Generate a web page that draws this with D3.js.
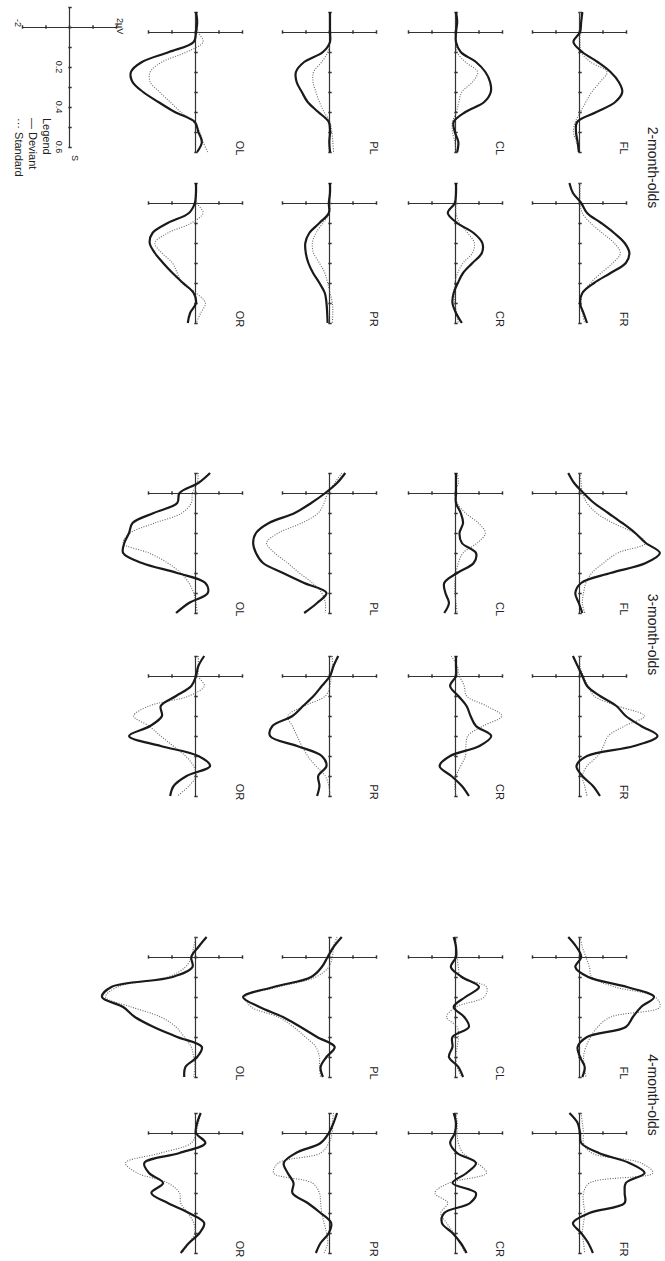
<!DOCTYPE html>
<html>
<head>
<meta charset="utf-8">
<script src="https://cdn.jsdelivr.net/npm/d3@7"></script>
<style>
  html, body { margin: 0; padding: 0; background: #fff; }
  svg { display: block; }
  text { font-family: "Liberation Sans", Arial, sans-serif; fill: #222; }
</style>
</head>
<body>
<script>
// Sample times (s) shared by every waveform
const times = [-0.1, -0.05, 0, 0.05, 0.1, 0.15, 0.2, 0.25, 0.3, 0.35, 0.4, 0.45, 0.5, 0.55, 0.6];

const ageGroups = ["2-month-olds", "3-month-olds", "4-month-olds"];
const sites = ["FL", "FR", "CL", "CR", "PL", "PR", "OL", "OR"];

// Grand-average amplitudes (µV), one row per site in the order of `sites`
const deviant2mo = [
  [0.1, 0.05, 0, -0.28, 0.1, 0.75, 1.3, 1.65, 1.8, 1.5, 0.7, -0.12, -0.17, -0.1, -0.05],
  [-0.45, -0.3, 0.05, 0.3, 0.9, 1.45, 1.9, 2.1, 1.95, 1.3, 0.6, 0.1, 0, 0.15, 0.3],
  [0, 0.05, 0, 0, 0.2, 0.85, 1.25, 1.45, 1.48, 1.2, 0.4, -0.1, -0.05, 0.1, 0.05],
  [0, 0, -0.05, -0.35, 0.05, 0.75, 1.12, 1.1, 0.7, 0.3, 0.08, -0.1, -0.15, 0, 0.25],
  [0, 0, 0, 0, -0.3, -1.1, -1.45, -1.42, -1.2, -0.95, -0.5, -0.05, 0, -0.03, 0],
  [0, 0, -0.05, -0.05, -0.45, -0.88, -1.05, -1.03, -0.92, -0.72, -0.45, -0.22, -0.15, -0.12, -0.1],
  [0, 0.05, 0, -0.1, -1.15, -2.3, -2.77, -2.7, -2.25, -1.6, -0.9, -0.05, 0.1, 0.25, 0.05],
  [0, 0, -0.05, -0.3, -1.2, -1.85, -1.97, -1.75, -1.4, -1.0, -0.55, -0.1, 0, -0.25, -0.35]
];
const standard2mo = [
  [0, 0, 0, 0, 0.05, 0.45, 1.15, 0.85, 0.5, 0.25, 0.02, -0.2, -0.28, -0.15, 0],
  [0, 0, 0, 0.1, 0.45, 0.95, 1.45, 1.72, 1.4, 0.9, 0.45, 0.12, 0.05, 0.1, 0.2],
  [0, 0, 0, 0, 0.05, 0.4, 0.92, 0.7, 0.25, 0.12, 0.02, -0.15, -0.15, -0.05, 0],
  [0, 0, 0, 0, 0.15, 0.5, 0.78, 0.7, 0.3, 0.07, -0.05, -0.08, -0.05, 0.02, 0.1],
  [0, 0, 0, 0, -0.1, -0.35, -0.7, -0.72, -0.6, -0.45, -0.25, 0, 0.08, 0.12, 0.15],
  [0, 0, 0, -0.02, -0.3, -0.6, -0.75, -0.7, -0.45, -0.22, -0.1, 0, 0.1, 0.12, 0.1],
  [0, 0, 0.1, 0.3, -0.4, -1.45, -1.95, -1.95, -1.55, -1.1, -0.65, -0.1, 0.15, 0.3, 0.5],
  [0, 0, 0.05, 0.3, -0.2, -1.2, -1.75, -1.45, -1.0, -0.8, -0.6, 0, 0.4, 0.2, 0]
];
const deviant3mo = [
  [-0.5, -0.25, 0.15, 0.6, 1.2, 1.8, 2.35, 2.8, 3.4, 2.8, 1.3, 0.05, -0.2, -0.05, 0.1],
  [-0.3, -0.1, 0.1, 0.3, 0.85, 1.55, 1.95, 2.6, 3.3, 2.3, 0.3, -0.15, 0.1, 0.55, 0.85],
  [0, 0, 0, 0, 0.2, 0.3, 0.15, 0.25, 0.85, 0.75, 0.05, -0.5, -0.45, -0.3, -0.5],
  [0, 0, 0, -0.25, 0.1, 0.45, 0.62, 0.85, 1.5, 1.0, -0.25, -0.7, -0.2, 0.25, 0.55],
  [0.65, 0.3, -0.2, -0.8, -1.5, -2.6, -3.15, -3.27, -3.15, -2.85, -2.0, -1.1, -0.15, -0.55, -1.1],
  [0.35, 0.15, 0, -0.35, -0.7, -1.15, -1.6, -2.45, -2.55, -1.4, -0.35, -0.15, -0.5, -0.45, -0.55],
  [0.6, 0.1, -0.7, -0.8, -1.8, -2.7, -2.85, -3.05, -3.1, -2.3, -0.8, 0.4, 0.5, -0.3, -0.85],
  [0.35, 0.1, 0, -0.2, -0.85, -1.5, -1.45, -1.95, -2.85, -1.5, 0.1, 0.6, -0.4, -0.95, -1.1]
];
const standard3mo = [
  [0, 0.05, 0.1, 0.3, 0.7, 1.4, 2.3, 2.8, 1.6, 1.0, 0.5, 0.25, 0.15, 0.1, 0.2],
  [0, 0, 0.15, 0.35, 0.6, 1.6, 2.75, 1.9, 1.2, 1.0, 0.75, 0.3, 0.1, 0.2, 0.3],
  [0.05, 0.1, -0.05, 0.05, 0.4, 0.95, 1.25, 0.9, 0.3, 0.1, 0, -0.05, -0.05, 0, 0.05],
  [-0.2, 0.05, 0.15, 0.35, 0.45, 1.3, 1.95, 1.15, 0.5, 0.42, 0.4, 0.2, 0, -0.05, 0],
  [0.5, 0.2, -0.1, -0.25, -0.5, -1.2, -2.2, -2.7, -2.35, -1.8, -1.3, -0.75, -0.35, -0.2, -0.2],
  [0.1, 0.1, 0.05, 0, -0.2, -1.1, -1.8, -1.6, -1.4, -1.2, -0.95, -0.6, -0.2, -0.05, 0],
  [0.1, 0.05, -0.15, -0.2, -0.6, -1.75, -2.8, -3.1, -2.0, -1.2, -0.65, -0.3, -0.1, 0, 0.05],
  [0.1, 0.1, 0.1, 0.35, -0.3, -2.0, -2.65, -2.0, -1.5, -0.97, -0.45, -0.1, 0, -0.3, -0.8]
];
const deviant4mo = [
  [-0.5, -0.15, 0.05, -0.2, 0.35, 2.0, 3.15, 2.6, 2.25, 1.95, 0.3, -0.1, 0, 0.2, 0.1],
  [-0.45, -0.1, 0, 0.05, 0.8, 2.1, 2.75, 1.95, 1.9, 1.9, 0.4, -0.3, 0.05, 0.35, 0.55],
  [-0.1, 0, 0, -0.22, 0.25, 0.98, 0.4, -0.1, 0.35, 0.55, -0.15, -0.15, -0.3, 0.1, 0.3],
  [-0.1, 0, -0.05, -0.25, 0.05, 0.85, 0.45, -0.15, 0.85, 0.6, -0.5, -0.6, -0.15, 0.2, 0.45],
  [0.5, 0.15, -0.1, -0.35, -0.8, -2.4, -3.7, -3.0, -2.0, -1.25, -0.55, 0.2, -0.15, -0.4, -0.3],
  [0.3, 0.15, -0.05, -0.4, -1.45, -1.97, -1.8, -1.55, -1.6, -0.95, -0.4, 0.05, -0.05, -0.4, -0.6],
  [0.45, 0.1, -0.2, -0.15, -1.0, -3.6, -4.0, -3.1, -2.6, -1.8, -0.8, 0.25, 0.05, -0.45, -0.5],
  [0.2, 0.05, 0, 0.4, -0.7, -2.2, -2.0, -1.4, -1.9, -1.2, -0.3, 0.35, 0.15, -0.3, -0.65]
];
const standard4mo = [
  [0, 0.1, 0.25, 0.4, 0.5, 1.5, 3.2, 3.4, 1.3, 0.75, 0.45, 0.25, 0.15, 0.2, 0.25],
  [0.05, 0.1, 0.15, 0.15, 0.5, 2.6, 3.1, 0.4, 0.15, 0.15, 0.2, 0.15, 0.1, 0.15, 0.2],
  [0, 0, 0.05, 0.1, 0.2, 1.3, 1.2, 0, -0.4, 0.05, 0.1, 0.05, 0, 0.05, 0.25],
  [0, 0.05, 0.05, 0.1, 0.3, 0.9, 1.3, -0.3, -0.9, -0.35, -0.65, -0.4, -0.1, 0.15, 0.4],
  [0.3, 0.15, 0.1, -0.05, -0.6, -2.2, -3.6, -3.35, -2.2, -1.55, -1.05, -0.6, -0.45, -0.45, -0.4],
  [0.15, 0.1, 0.1, -0.05, -0.4, -2.2, -2.4, -0.75, -0.45, -0.4, -0.35, -0.25, -0.15, -0.1, -0.25],
  [0, -0.1, -0.2, -0.45, -1.2, -3.35, -3.85, -2.75, -1.5, -0.85, -0.5, -0.2, -0.1, -0.05, -0.1],
  [0.2, 0.1, 0, -0.2, -1.5, -3.0, -2.5, -1.2, -0.7, -0.65, -0.35, -0.1, -0.05, -0.3, -0.6]
];

const deviantByAge = [deviant2mo, deviant3mo, deviant4mo];
const standardByAge = [standard2mo, standard3mo, standard4mo];

// Axis ticks
const timeAxisTicks = [-0.1, 0, 0.1, 0.2, 0.3, 0.4, 0.5, 0.6];
const voltAxisTicks = [-2, -1, 0, 1, 2];
const legendTimeLabels = [0.2, 0.4, 0.6];
const legendVoltLabels = ["-2", "2\u00b5V"];
const legendEntries = ["Legend", "\u2014 Deviant", "\u00b7\u00b7\u00b7 Standard"];

// ---- layout (landscape page, turned a quarter clockwise onto the portrait canvas)
const W = 665, H = 1261;
const rowBase = [85, 209, 335, 469];               // zero-µV line per row (F, C, P, O)
const colT0 = [[32, 203], [493, 676], [957, 1133]]; // stimulus onset per age group, left/right column
const PX_PER_S = 200, PX_PER_UV = 23.5;
const T_MIN = -0.1, T_MAX = 0.6, V_MAX = 2;

const svg = d3.select("body").append("svg")
  .attr("width", W).attr("height", H);
svg.append("rect").attr("width", W).attr("height", H).attr("fill", "#fff");

const page = svg.append("g").attr("transform", `translate(${W},0) rotate(90)`);

function scalesAt(t0, base) {
  const x = d3.scaleLinear().domain([T_MIN, T_MAX])
    .range([t0 + T_MIN * PX_PER_S, t0 + T_MAX * PX_PER_S]);
  const y = d3.scaleLinear().domain([-V_MAX, V_MAX])
    .range([base + V_MAX * PX_PER_UV, base - V_MAX * PX_PER_UV]);
  return [x, y];
}

const line = (x, y) => d3.line()
  .x((d, i) => x(times[i]))
  .y(d => y(d))
  .curve(d3.curveCatmullRom.alpha(0.5));

function drawAxes(g, x, y) {
  const tAxis = g.append("g")
    .attr("transform", `translate(0,${y(0)})`)
    .call(d3.axisBottom(x).tickValues(timeAxisTicks).tickSizeInner(2).tickSizeOuter(0).tickFormat(""));
  const vAxis = g.append("g")
    .attr("transform", `translate(${x(0)},0)`)
    .call(d3.axisLeft(y).tickValues(voltAxisTicks).tickSizeInner(2).tickSizeOuter(0).tickFormat(""));
  tAxis.selectAll(".tick line").attr("y1", -1.7).attr("y2", 1.7);
  vAxis.selectAll(".tick line").attr("x1", -1.7).attr("x2", 1.7);
  [tAxis, vAxis].forEach(a => {
    a.select(".domain").attr("stroke", "#333").attr("stroke-width", 1.2);
    a.selectAll(".tick line").attr("stroke", "#333").attr("stroke-width", 1.5);
  });
}

ageGroups.forEach((age, gi) => {
  const [tL, tR] = colT0[gi];
  page.append("text")
    .attr("x", (tL + tR) / 2 + 50)
    .attr("y", 12)
    .attr("dy", "0.35em")
    .attr("text-anchor", "middle")
    .attr("font-size", 14)
    .text(age);

  sites.forEach((site, si) => {
    const row = Math.floor(si / 2), col = si % 2;
    const base = rowBase[row];
    const [x, y] = scalesAt(colT0[gi][col], base);
    const g = page.append("g");

    drawAxes(g, x, y);

    g.append("path")
      .attr("d", line(x, y)(standardByAge[gi][si]))
      .attr("fill", "none")
      .attr("stroke", "#666")
      .attr("stroke-width", 1.1)
      .attr("stroke-dasharray", "1 1.5");

    g.append("path")
      .attr("d", line(x, y)(deviantByAge[gi][si]))
      .attr("fill", "none")
      .attr("stroke", "#1a1a1a")
      .attr("stroke-width", 2.2);

    g.append("text")
      .attr("x", x(0.58))
      .attr("y", base - 44)
      .attr("dy", "0.35em")
      .attr("text-anchor", "middle")
      .attr("font-size", 11)
      .text(site);
  });
});

// ---- scale legend (bottom-left of the landscape page)
{
  const t0 = 27, base = 595;
  const [x, y] = scalesAt(t0, base);
  const g = page.append("g");
  drawAxes(g, x, y);

  g.selectAll("text.tl").data(legendTimeLabels).join("text")
    .attr("x", d => x(d))
    .attr("y", base + 11)
    .attr("dy", "0.35em")
    .attr("text-anchor", "middle")
    .attr("font-size", 9)
    .text(d => d3.format(".1f")(d));

  g.append("text").attr("x", x(0.6) + 11).attr("y", base - 5)
    .attr("dy", "0.35em").attr("text-anchor", "middle").attr("font-size", 9).text("S");

  g.append("text").attr("x", t0 - 4).attr("y", y(-2) + 5)
    .attr("dy", "0.35em").attr("text-anchor", "middle").attr("font-size", 9).text(legendVoltLabels[0]);
  g.append("text").attr("x", t0 - 9).attr("y", y(2) - 3)
    .attr("dy", "0.35em").attr("text-anchor", "start").attr("font-size", 9).text(legendVoltLabels[1]);

  g.selectAll("text.lg").data(legendEntries).join("text")
    .attr("x", 118)
    .attr("y", (d, i) => 618 + i * 14)
    .attr("dy", "0.35em")
    .attr("font-size", 11)
    .text(d => d);
}
</script>
</body>
</html>
